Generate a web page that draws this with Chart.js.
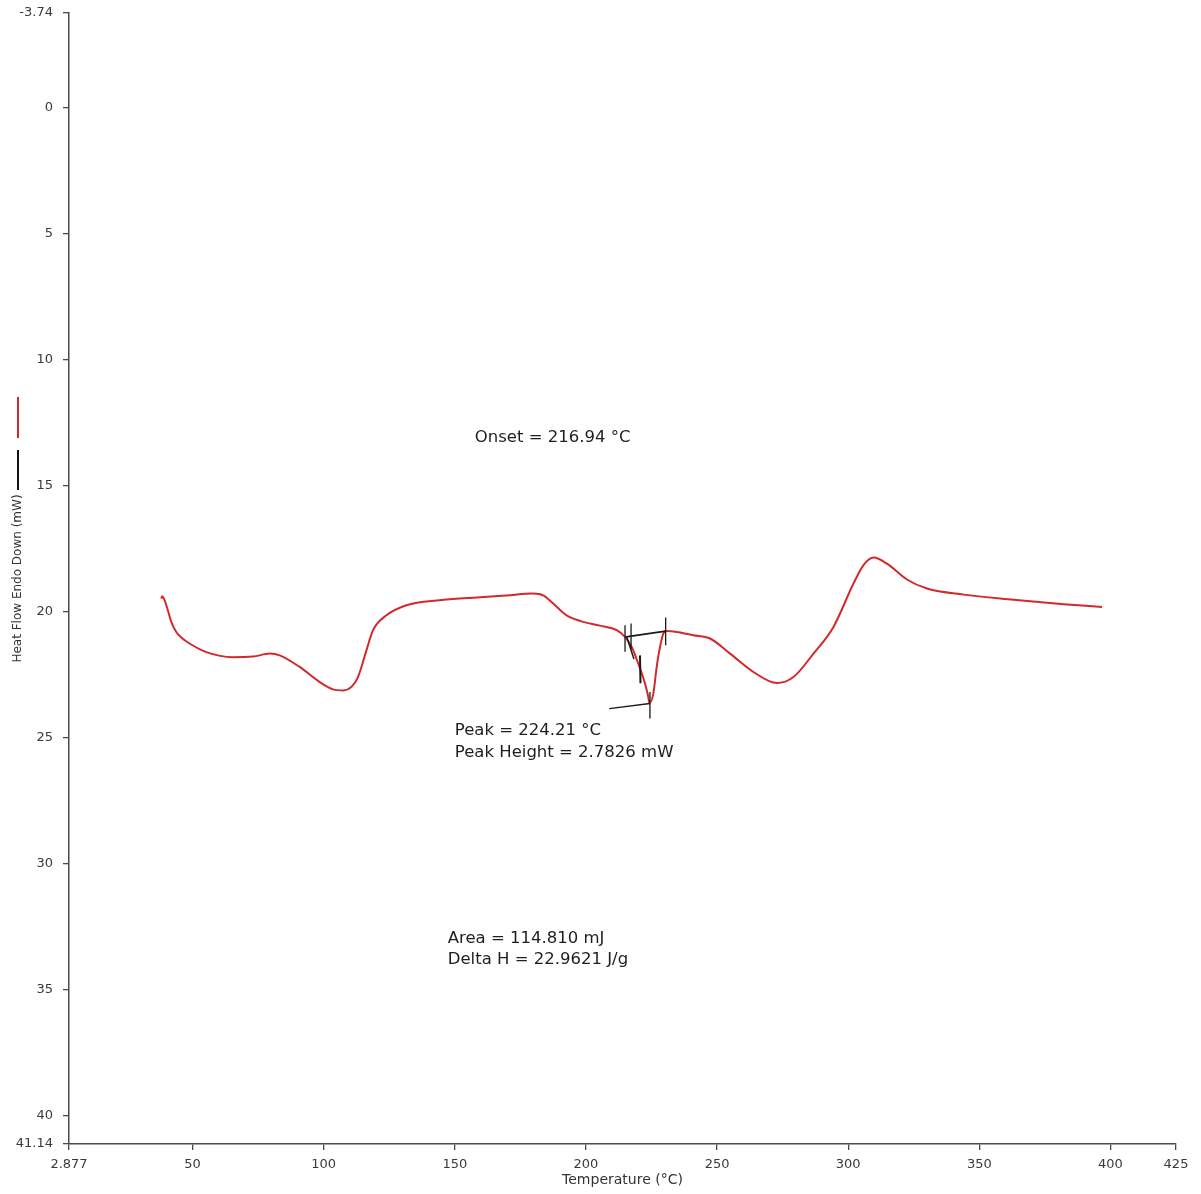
<!DOCTYPE html>
<html><head><meta charset="utf-8">
<script src="https://cdn.jsdelivr.net/npm/chart.js@4/dist/chart.umd.min.js"></script>
<style>html,body{margin:0;padding:0;background:#fff;}#wrap{width:1201px;height:1194px;}</style>
</head><body><div id="wrap"><canvas id="c" width="1201" height="1194"></canvas></div>
<script>
// ---- data ----
const temperature = [38.05, 38.44, 39.31, 40.57, 41.87, 43.78, 45.69, 48.85, 55.23, 65.38, 73.02, 79.39, 83.21, 90.84, 98.47, 103.55, 107.37, 110.57, 113.09, 116.3, 118.82, 123.93, 131.56, 144.27, 156.98, 169.73, 179.89, 183.7, 187.52, 192.63, 197.71, 205.34, 211.72, 214.89, 217.44, 219.96, 222.52, 223.78, 224.21, 225.69, 226.98, 228.24, 229.5, 230.8, 234.62, 240.95, 247.33, 254.96, 263.86, 272.79, 279.12, 286.76, 294.39, 302.02, 305.84, 309.66, 314.77, 322.4, 330.04, 344.0, 363.09, 382.18, 396.83];
const heatFlow = [19.50, 19.40, 19.56, 19.96, 20.42, 20.82, 21.04, 21.28, 21.62, 21.82, 21.80, 21.68, 21.75, 22.21, 22.81, 23.10, 23.14, 23.00, 22.61, 21.55, 20.75, 20.16, 19.76, 19.56, 19.46, 19.37, 19.30, 19.37, 19.69, 20.16, 20.38, 20.57, 20.75, 21.02, 21.42, 22.08, 22.87, 23.40, 23.64, 23.27, 22.21, 21.42, 20.89, 20.78, 20.82, 20.95, 21.08, 21.68, 22.41, 22.85, 22.61, 21.68, 20.62, 18.90, 18.17, 17.87, 18.11, 18.74, 19.10, 19.34, 19.54, 19.72, 19.83];

const xTickValues = [2.877, 50, 100, 150, 200, 250, 300, 350, 400, 425];
const xTickLabels = ['2.877', '50', '100', '150', '200', '250', '300', '350', '400', '425'];
const yTickValues = [-3.74, 0, 5, 10, 15, 20, 25, 30, 35, 40, 41.14];
const yTickLabels = ['-3.74', '0', '5', '10', '15', '20', '25', '30', '35', '40', '41.14'];

// analysis construction lines (temperature, heat flow)
const baselineSeg = [[215.3, 21.02], [230.4, 20.79]];
const onsetTickA = [[214.9, 20.56], [214.9, 21.61]];
const onsetTickB = [[217.2, 20.49], [217.2, 21.52]];
const endTick = [[230.4, 20.25], [230.4, 21.35]];
const tangentSegA = [[215.6, 21.03], [218.3, 21.90]];
const tangentSegB = [[220.6, 21.75], [220.8, 22.86]];
const peakSeg = [[208.9, 23.86], [224.4, 23.66]];
const peakTick = [[224.4, 23.20], [224.4, 24.26]];

const annotationTexts = ['Onset = 216.94 °C', 'Peak = 224.21 °C', 'Peak Height = 2.7826 mW', 'Area = 114.810 mJ', 'Delta H = 22.9621 J/g'];
const annotationAnchors = [[157.6, 13.13], [150.0, 24.76], [150.0, 25.60], [147.3, 32.98], [147.3, 33.81]];

const xTitle = 'Temperature (°C)';
const yTitle = 'Heat Flow Endo Down (mW)';

// ---- chart ----
const toPts = a => a.map(p => ({x: p[0], y: p[1]}));
const curve = temperature.map((t, i) => ({x: t, y: heatFlow[i]}));
const blackSeg = (arr, w) => ({data: toPts(arr), borderColor: '#1a1a1a', borderWidth: w || 1.3, pointRadius: 0, tension: 0, order: 0, fill: false});

const FONT = '"DejaVu Sans", "Liberation Sans", Arial, sans-serif';
const axisColor = '#4a4a4a';

const extras = {
  id: 'extras',
  afterDatasetsDraw(chart) {
    const ctx = chart.ctx, xs = chart.scales.x, ys = chart.scales.y;
    ctx.save();
    ctx.fillStyle = '#1e1e1e';
    ctx.font = '16.5px ' + FONT;
    ctx.textAlign = 'left';
    ctx.textBaseline = 'middle';
    annotationTexts.forEach((t, i) => {
      ctx.fillText(t, xs.getPixelForValue(annotationAnchors[i][0]), ys.getPixelForValue(annotationAnchors[i][1]));
    });
    // legend swatches
    ctx.lineWidth = 2;
    ctx.strokeStyle = '#d22a2a';
    ctx.beginPath(); ctx.moveTo(18, 397); ctx.lineTo(18, 438); ctx.stroke();
    ctx.strokeStyle = '#111';
    ctx.beginPath(); ctx.moveTo(18, 450); ctx.lineTo(18, 490); ctx.stroke();
    ctx.restore();
  }
};

new Chart(document.getElementById('c'), {
  type: 'line',
  data: {
    datasets: [
      {data: curve, borderColor: '#d22a2a', borderWidth: 2, pointRadius: 0, cubicInterpolationMode: 'monotone', order: 1, fill: false},
      blackSeg(baselineSeg, 1.8),
      blackSeg(onsetTickA),
      blackSeg(onsetTickB),
      blackSeg(endTick),
      blackSeg(tangentSegA, 1.5),
      blackSeg(tangentSegB, 2),
      blackSeg(peakSeg, 1.3),
      blackSeg(peakTick, 1.3)
    ]
  },
  options: {
    responsive: false,
    animation: false,
    devicePixelRatio: 1,
    layout: {padding: {top: 13, right: 25, left: 0, bottom: 0}},
    plugins: {legend: {display: false}, tooltip: {enabled: false}},
    scales: {
      x: {
        type: 'linear', min: 2.877, max: 425,
        afterFit: s => { s.height = 50; },
        afterBuildTicks: s => { s.ticks = xTickValues.map(v => ({value: v})); },
        ticks: {
          autoSkip: false, maxRotation: 0, padding: 7, color: '#3a3a3a',
          font: {family: FONT, size: 13},
          callback: (v) => { const i = xTickValues.findIndex(t => Math.abs(t - v) < 1e-6); return i >= 0 ? xTickLabels[i] : ''; }
        },
        grid: {display: true, drawOnChartArea: false, drawTicks: true, tickLength: 6, color: axisColor, lineWidth: 1.3},
        border: {display: true, color: axisColor, width: 1.5},
        title: {display: true, text: xTitle, color: '#333', font: {family: FONT, size: 14}, padding: {top: 0, bottom: 5}}
      },
      y: {
        type: 'linear', min: -3.74, max: 41.14, reverse: true,
        afterFit: s => { s.width = 69; s.paddingTop = 0; s.paddingBottom = 0; },
        afterBuildTicks: s => { s.ticks = yTickValues.map(v => ({value: v})); },
        ticks: {
          autoSkip: false, padding: 10, color: '#3a3a3a',
          font: {family: FONT, size: 13},
          callback: (v) => { const i = yTickValues.findIndex(t => Math.abs(t - v) < 1e-6); return i >= 0 ? yTickLabels[i] : ''; }
        },
        grid: {display: true, drawOnChartArea: false, drawTicks: true, tickLength: 6, color: axisColor, lineWidth: 1.3},
        border: {display: true, color: axisColor, width: 1.5},
        title: {display: true, text: yTitle, color: '#333', font: {family: FONT, size: 12}, padding: {top: 11, bottom: 0}}
      }
    }
  },
  plugins: [extras]
});
</script></body></html>
